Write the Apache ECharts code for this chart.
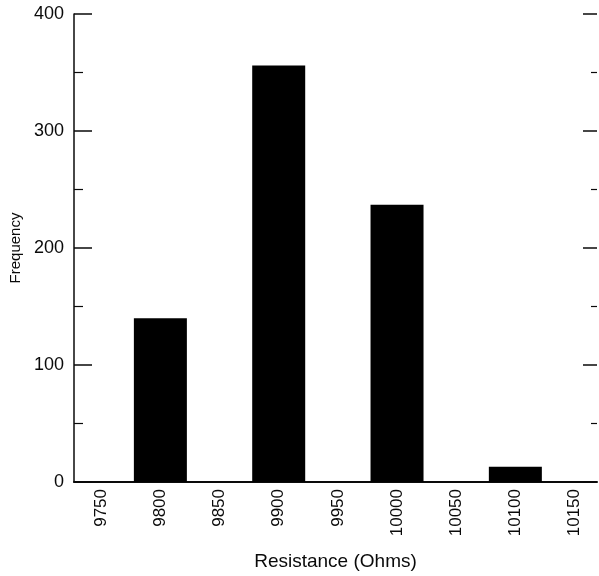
<!DOCTYPE html>
<html>
<head>
<meta charset="utf-8">
<script src="https://cdn.jsdelivr.net/npm/echarts@6/dist/echarts.min.js"></script>
<style>
  html, body { margin: 0; padding: 0; background: #fff; }
  #chart { width: 599px; height: 576px; }
</style>
</head>
<body>
<div id="chart"></div>
<script>
// Resistance bins (Ohms) and counts per bin
const resistanceBins = [9750, 9800, 9850, 9900, 9950, 10000, 10050, 10100, 10150];
const frequencies = [0, 140, 0, 356, 0, 237, 0, 13, 0];
const yTicks = [0, 100, 200, 300, 400];

const FONT = 'Liberation Sans, Arial, Helvetica, sans-serif';
const INK = '#0a0a0a';

const chart = echarts.init(document.getElementById('chart'), null, { renderer: 'canvas' });

chart.setOption({
  backgroundColor: '#fff',
  animation: false,
  grid: { left: 74, right: 2, top: 14, bottom: 93, containLabel: false },
  xAxis: {
    type: 'value',
    min: 9727,
    max: 10169,
    name: 'Resistance (Ohms)',
    nameLocation: 'middle',
    nameGap: 70,
    nameTextStyle: { fontFamily: FONT, fontSize: 19, color: INK },
    axisLine: { show: true, onZero: false, lineStyle: { color: INK, width: 2 } },
    axisTick: { show: false },
    splitLine: { show: false },
    axisLabel: {
      customValues: resistanceBins,
      formatter: v => String(v),
      rotate: 90,
      margin: 7,
      fontFamily: FONT,
      fontSize: 17,
      color: INK
    }
  },
  yAxis: [
    {
      type: 'value',
      min: 0,
      max: 400,
      interval: 100,
      position: 'left',
      name: 'Frequency',
      nameLocation: 'middle',
      nameGap: 47,
      nameTextStyle: { fontFamily: FONT, fontSize: 15, color: INK },
      axisLine: { show: true, lineStyle: { color: INK, width: 1.5 } },
      axisTick: { show: true, inside: true, length: 18, lineStyle: { color: INK, width: 1.5 } },
      minorTick: { show: true, splitNumber: 2, length: 9, lineStyle: { color: INK, width: 1.2 } },
      splitLine: { show: false },
      axisLabel: {
        customValues: yTicks,
        margin: 10,
        fontFamily: FONT,
        fontSize: 18,
        color: INK
      }
    },
    {
      type: 'value',
      min: 0,
      max: 400,
      interval: 100,
      position: 'right',
      axisLine: { show: false },
      axisTick: { show: true, inside: true, length: 14, lineStyle: { color: INK, width: 1.5 } },
      minorTick: { show: true, splitNumber: 2, length: 6, lineStyle: { color: INK, width: 1.2 } },
      splitLine: { show: false },
      axisLabel: { show: false }
    }
  ],
  series: [
    {
      type: 'bar',
      xAxisIndex: 0,
      yAxisIndex: 0,
      barWidth: 53,
      itemStyle: { color: '#000' },
      data: resistanceBins.map((b, i) => [b, frequencies[i]])
    }
  ]
});
</script>
</body>
</html>
